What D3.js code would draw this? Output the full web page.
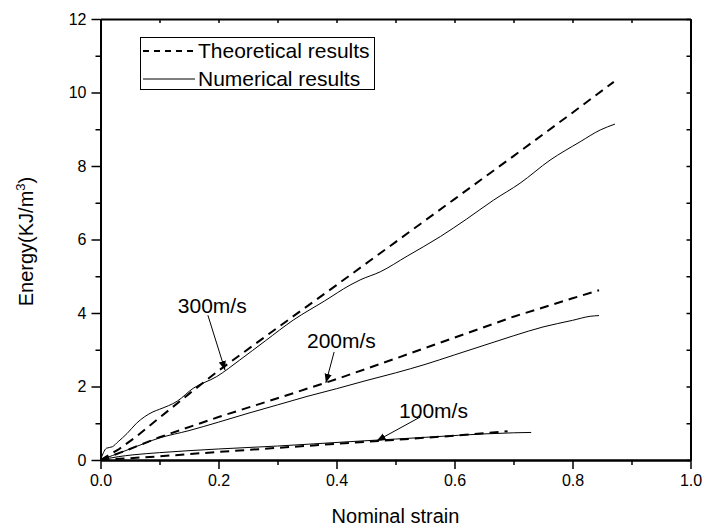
<!DOCTYPE html>
<html>
<head>
<meta charset="utf-8">
<script src="https://cdn.jsdelivr.net/npm/d3@7"></script>
<style>
  body { margin: 0; background: #fff; }
  svg { display: block; font-family: Arial, 'Liberation Sans', sans-serif; }
</style>
</head>
<body>
<svg width="702" height="529"></svg>
<script>
// theoretical (dashed) curves
let th300X = [0, 0.03, 0.06, 0.1, 0.15, 0.2, 0.3, 0.4, 0.5, 0.6, 0.7, 0.8, 0.87]
let th300Y = [0, 0.28, 0.63, 1.15, 1.8, 2.43, 3.6, 4.76, 5.93, 7.1, 8.27, 9.45, 10.29]
let th200X = [0, 0.05, 0.1, 0.2, 0.3, 0.4, 0.5, 0.6, 0.7, 0.8, 0.845]
let th200Y = [0, 0.3, 0.62, 1.17, 1.68, 2.2, 2.76, 3.33, 3.9, 4.4, 4.62]
let th100X = [0, 0.1, 0.2, 0.3, 0.4, 0.5, 0.6, 0.69]
let th100Y = [0, 0.1, 0.22, 0.33, 0.44, 0.55, 0.66, 0.78]

// numerical (solid) curves
let num300X = [0, 0.005, 0.01, 0.02, 0.03, 0.045, 0.061, 0.075, 0.089, 0.1, 0.13, 0.157, 0.197, 0.236, 0.28, 0.327, 0.38, 0.423, 0.44, 0.474, 0.52, 0.576, 0.62, 0.666, 0.711, 0.762, 0.813, 0.847, 0.872]
let num300Y = [0, 0.2, 0.32, 0.36, 0.5, 0.72, 1.0, 1.18, 1.31, 1.38, 1.6, 1.95, 2.27, 2.72, 3.25, 3.81, 4.33, 4.76, 4.9, 5.12, 5.55, 6.08, 6.55, 7.07, 7.53, 8.16, 8.66, 8.98, 9.14]
let num200X = [0, 0.02, 0.05, 0.1, 0.15, 0.2, 0.25, 0.3, 0.35, 0.4, 0.45, 0.5, 0.55, 0.6, 0.65, 0.7, 0.75, 0.8, 0.83, 0.845]
let num200Y = [0, 0.12, 0.3, 0.6, 0.8, 1.03, 1.27, 1.5, 1.73, 1.94, 2.16, 2.37, 2.6, 2.86, 3.12, 3.38, 3.62, 3.8, 3.91, 3.93]
let num100X = [0, 0.03, 0.055, 0.1, 0.2, 0.3, 0.423, 0.5, 0.564, 0.65, 0.7, 0.73]
let num100Y = [0, 0.09, 0.14, 0.2, 0.3, 0.38, 0.5, 0.57, 0.63, 0.71, 0.74, 0.75]

let xTicks = [0, 0.2, 0.4, 0.6, 0.8, 1.0]
let yTicks = [0, 2, 4, 6, 8, 10, 12]

// annotation text and arrow (data coords)
let labels = ['300m/s', '200m/s', '100m/s']
let labelAt = [[0.131, 4.0], [0.35, 3.05], [0.506, 1.14]]
let arrowFrom = [[0.182, 3.94], [0.396, 2.94], [0.542, 1.17]]
let arrowTo = [[0.211, 2.45], [0.382, 2.1], [0.468, 0.52]]

let legendNames = ['Theoretical results', 'Numerical results']

let margin = { left: 100.5, right: 11.5, top: 19, bottom: 69 }
let width = 702
let height = 529

let svg = d3.select('svg')
let x = d3.scaleLinear().domain([0, 1]).range([margin.left, width - margin.right])
let y = d3.scaleLinear().domain([0, 12]).range([height - margin.bottom, margin.top])

let defs = svg.append('defs')
defs.append('marker')
  .attr('id', 'arrowhead')
  .attr('viewBox', '0 -5 10 10')
  .attr('refX', 10)
  .attr('refY', 0)
  .attr('markerWidth', 9)
  .attr('markerHeight', 9)
  .attr('markerUnits', 'userSpaceOnUse')
  .attr('orient', 'auto')
  .append('path')
  .attr('d', 'M0,-4L10,0L0,4Z')
  .attr('fill', 'black')

let line = d3.line()
  .x(d => x(d[0]))
  .y(d => y(d[1]))

let lineSmooth = d3.line()
  .x(d => x(d[0]))
  .y(d => y(d[1]))
  .curve(d3.curveMonotoneX)

function zip (a, b) {
  return a.map((v, i) => [v, b[i]])
}

let theoretical = [zip(th300X, th300Y), zip(th200X, th200Y), zip(th100X, th100Y)]
let numerical = [zip(num300X, num300Y), zip(num200X, num200Y), zip(num100X, num100Y)]

let g = svg.append('g')

numerical.forEach(function (s) {
  g.append('path')
    .attr('d', lineSmooth(s))
    .attr('fill', 'none')
    .attr('stroke', 'black')
    .attr('stroke-width', 1)
})

theoretical.forEach(function (s) {
  g.append('path')
    .attr('d', line(s))
    .attr('fill', 'none')
    .attr('stroke', 'black')
    .attr('stroke-width', 2)
    .attr('stroke-dasharray', '9,6')
})

// axes
let fontTick = '16px'
let axisB = svg.append('g')
  .attr('transform', 'translate(0,' + y(0) + ')')
  .call(d3.axisBottom(x).tickValues(xTicks).tickFormat(d3.format('.1f')).tickSize(9).tickSizeOuter(0).tickPadding(6))
axisB.append('g')
  .call(d3.axisBottom(x).tickValues(d3.range(0.1, 1, 0.2)).tickFormat('').tickSize(5).tickSizeOuter(0))

let axisL = svg.append('g')
  .attr('transform', 'translate(' + x(0) + ',0)')
  .call(d3.axisLeft(y).tickValues(yTicks).tickFormat(d3.format('d')).tickSize(9).tickSizeOuter(0).tickPadding(5))
axisL.append('g')
  .call(d3.axisLeft(y).tickValues(d3.range(1, 12, 2)).tickFormat('').tickSize(5).tickSizeOuter(0))

svg.append('g')
  .attr('transform', 'translate(0,' + y(12) + ')')
  .call(d3.axisBottom(x).tickValues(d3.range(0, 1.01, 0.1)).tickFormat('').tickSize(4).tickSizeOuter(0))

svg.append('g')
  .attr('transform', 'translate(' + x(1) + ',0)')
  .call(d3.axisLeft(y).tickValues(d3.range(0, 13, 1)).tickFormat('').tickSize(4).tickSizeOuter(0))

svg.selectAll('.domain')
  .attr('stroke-width', 2)
svg.selectAll('.tick line')
  .attr('stroke-width', 1.5)
svg.selectAll('.tick text')
  .attr('font-size', fontTick)
  .attr('font-family', 'Arial, Liberation Sans, sans-serif')
  .attr('fill', 'black')

// axis titles
svg.append('text')
  .attr('x', (x(0) + x(1)) / 2)
  .attr('y', 523)
  .attr('text-anchor', 'middle')
  .attr('font-size', '20px')
  .text('Nominal strain')

let yTitle = svg.append('text')
  .attr('transform', 'translate(33,' + (y(6) + 2) + ') rotate(-90)')
  .attr('text-anchor', 'middle')
  .attr('font-size', '20px')
yTitle.append('tspan').text('Energy(KJ/m')
yTitle.append('tspan').attr('font-size', '13px').attr('dy', -8).text('3')
yTitle.append('tspan').attr('dy', 8).text(')')

// annotations
labels.forEach(function (t, i) {
  svg.append('text')
    .attr('x', x(labelAt[i][0]))
    .attr('y', y(labelAt[i][1]))
    .attr('font-size', '21px')
    .text(t)
  svg.append('line')
    .attr('x1', x(arrowFrom[i][0]))
    .attr('y1', y(arrowFrom[i][1]))
    .attr('x2', x(arrowTo[i][0]))
    .attr('y2', y(arrowTo[i][1]))
    .attr('stroke', 'black')
    .attr('stroke-width', 1)
    .attr('marker-end', 'url(#arrowhead)')
})

// legend
let legend = svg.append('g')
legend.append('rect')
  .attr('x', 140.5)
  .attr('y', 37.5)
  .attr('width', 234)
  .attr('height', 52)
  .attr('fill', 'white')
  .attr('stroke', 'black')
  .attr('stroke-width', 1)

legendNames.forEach(function (name, i) {
  let ly = 51 + i * 28
  legend.append('line')
    .attr('x1', 143)
    .attr('x2', 195)
    .attr('y1', ly)
    .attr('y2', ly)
    .attr('stroke', 'black')
    .attr('stroke-width', i === 0 ? 1.8 : 1)
    .attr('stroke-dasharray', i === 0 ? '6,5' : null)
  legend.append('text')
    .attr('x', 198)
    .attr('y', ly + 7)
    .attr('font-size', '21px')
    .text(name)
})
</script>
</body>
</html>
